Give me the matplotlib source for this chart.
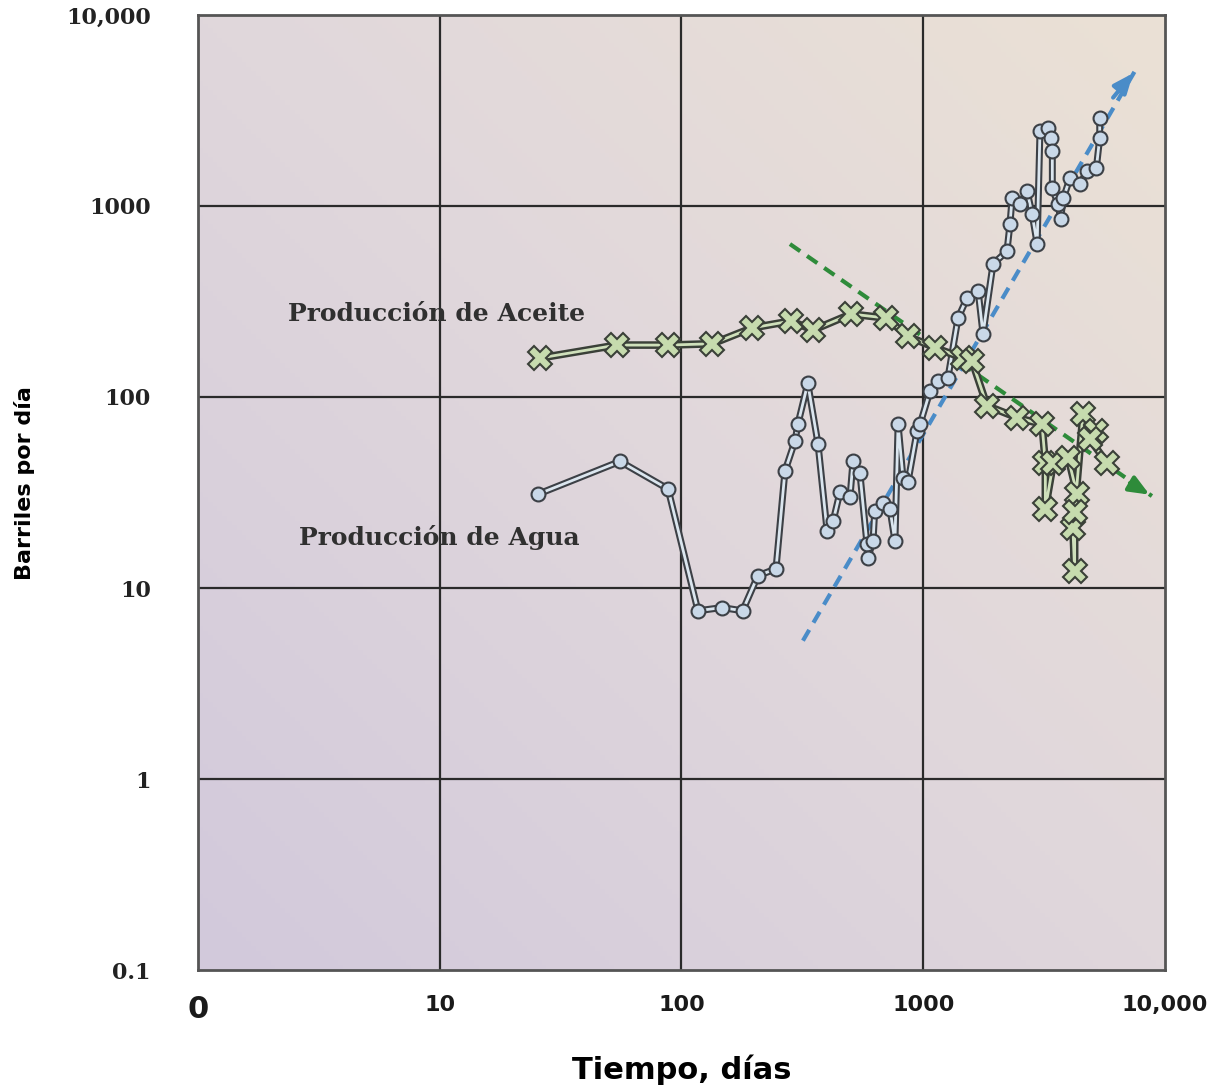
import numpy as np
import matplotlib
matplotlib.use('Agg')
import matplotlib.pyplot as plt
from matplotlib.colors import LinearSegmentedColormap

# Produccion de Aceite (dias, barriles por dia)
oil_t = [26, 54, 88, 134, 196, 284, 350, 503, 702, 865, 1120, 1460, 1590,
         1836, 2443, 3100, 3200, 3200, 3450, 3980, 4325, 4160, 4230, 4230,
         4575, 5200, 4900, 5760]
oil_q = [160, 187, 187, 190, 230, 250, 224, 272, 259, 208, 181, 160, 155,
         90, 78, 72, 45, 26, 45, 48, 31, 20.6, 12.3, 25, 81, 66, 60, 45]

# Produccion de Agua
wat_t = [25.5, 55.7, 88, 117, 147, 179, 207, 246, 268, 295, 303, 333, 367,
         400, 424, 453, 498, 512, 547, 585, 590, 620, 630, 682, 728, 764, 787,
         825, 865, 942, 970, 1066, 1150, 1265, 1393, 1518, 1687, 1767, 1944,
         2220, 2285, 2330, 2515, 2685, 2820, 2960, 3040, 3280, 3380, 3420,
         3420, 3610, 3700, 3800, 4045, 4450, 4760, 5200, 5370, 5370]
wat_q = [31, 46, 33, 7.6, 7.9, 7.6, 11.6, 12.6, 41, 59, 72, 118, 57, 20, 22.4,
         32, 30, 46, 40, 17, 14.4, 17.6, 25.3, 27.8, 26, 17.6, 72, 37.6, 36,
         66, 72, 107, 121, 126, 259, 330, 359, 214, 497, 580, 805, 1100, 1020,
         1200, 910, 632, 2470, 2560, 2270, 1940, 1240, 1020, 860, 1100, 1400,
         1300, 1520, 1580, 2270, 2890]

# tendencias
oil_trend_t = [281, 8830]
oil_trend_q = [632, 30.3]
wat_trend_t = [318, 7510]
wat_trend_q = [5.3, 5090]

xticks = [1, 10, 100, 1000, 10000]
xlabels = ['0', '10', '100', '1000', '10,000']
yticks = [0.1, 1, 10, 100, 1000, 10000]
ylabels = ['0.1', '1', '10', '100', '1000', '10,000']

fig = plt.figure(figsize=(12.1, 10.86), dpi=100)
ax = fig.add_axes([0.1636, 0.1068, 0.7992, 0.8794])
ax.set_xscale('log')
ax.set_yscale('log')
ax.set_xlim(1, 10000)
ax.set_ylim(0.1, 10000)

# fondo degradado
cmap = LinearSegmentedColormap.from_list('bg', ['#d2c9db', '#e0d7dc', '#ebe1d5'])
gx, gy = np.meshgrid(np.linspace(0, 1, 200), np.linspace(0, 1, 200))
ax.imshow((gx + gy) / 2, extent=[0, 1, 0, 1], transform=ax.transAxes,
          cmap=cmap, origin='lower', aspect='auto', zorder=0)

for v in xticks[1:-1]:
    ax.axvline(v, color='#2a2a2a', lw=1.6, zorder=1)
for v in yticks[1:-1]:
    ax.axhline(v, color='#2a2a2a', lw=1.6, zorder=1)

# trend lines
ax.plot(oil_trend_t, oil_trend_q, color='#2e8b3a', lw=3, ls=(0, (3, 2)), zorder=2)
ax.annotate('', xy=(oil_trend_t[1], oil_trend_q[1]), xytext=(7000, 36),
            arrowprops=dict(arrowstyle='-|>,head_length=1.2,head_width=0.5',
                            color='#2e8b3a', lw=3), zorder=2)
ax.plot(wat_trend_t, wat_trend_q, color='#4a8cc8', lw=3, ls=(0, (3, 2)), zorder=2)
ax.annotate('', xy=(wat_trend_t[1], wat_trend_q[1]), xytext=(6000, 3600),
            arrowprops=dict(arrowstyle='-|>,head_length=1.2,head_width=0.5',
                            color='#4a8cc8', lw=3), zorder=2)

# water series: double line
ax.plot(wat_t, wat_q, color='#3c4046', lw=5, zorder=3)
ax.plot(wat_t, wat_q, color='#dbe6ef', lw=2, zorder=3)
ax.plot(wat_t, wat_q, ls='none', marker='o', ms=10, mfc='#c9d8e8',
        mec='#3c4046', mew=1.5, zorder=4)

# oil series
ax.plot(oil_t, oil_q, color='#3a4038', lw=5.5, zorder=5)
ax.plot(oil_t, oil_q, color='#cfe0bb', lw=2, zorder=5)
ax.plot(oil_t, oil_q, ls='none', marker='X', ms=17, mfc='#c6dbae',
        mec='#3a4038', mew=1.5, zorder=6)

ax.text(9.66, 272, 'Producción de Aceite', fontsize=18, fontweight='bold',
        family='DejaVu Serif', color='#303030', ha='center', va='center', zorder=7)
ax.text(10, 18.3, 'Producción de Agua', fontsize=18, fontweight='bold',
        family='DejaVu Serif', color='#303030', ha='center', va='center', zorder=7)

ax.set_xticks(xticks)
ax.set_xticklabels(xlabels)
ax.set_yticks(yticks)
ax.set_yticklabels(ylabels)
ax.minorticks_off()
ax.tick_params(axis='x', length=0, pad=18)
ax.tick_params(axis='y', length=0, pad=34)
for lab in ax.get_yticklabels():
    lab.set_family('DejaVu Serif')
    lab.set_fontweight('heavy')
    lab.set_fontsize(16)
    lab.set_color('#222222')
for lab in ax.get_xticklabels():
    lab.set_family('DejaVu Sans')
    lab.set_fontweight('bold')
    lab.set_fontsize(16)
    lab.set_color('#1a1a1a')
ax.get_xticklabels()[0].set_fontsize(22)

for s in ax.spines.values():
    s.set_color('#555555')
    s.set_linewidth(2)

ax.set_xlabel('Tiempo, días', fontsize=22, fontweight='bold',
              family='DejaVu Sans', labelpad=22)
ax.set_ylabel('Barriles por día', fontsize=16, fontweight='bold',
              family='DejaVu Sans')
ax.yaxis.set_label_coords(-0.168, 0.51)

fig.savefig('out.png', dpi=100)
